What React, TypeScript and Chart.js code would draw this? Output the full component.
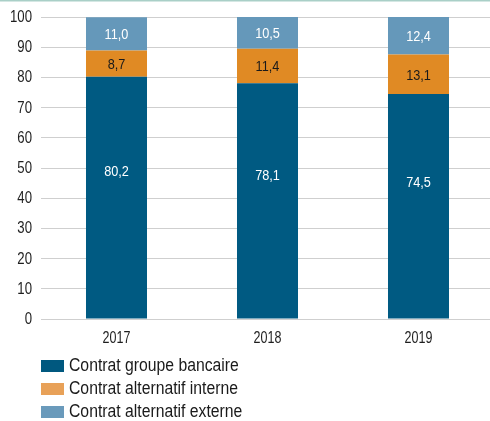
import React, { useEffect, useRef } from 'react';
import { Chart, registerables } from 'chart.js';

Chart.register(...registerables);

const categories = ['2017', '2018', '2019'];
const seriesNames = ['Contrat groupe bancaire', 'Contrat alternatif interne', 'Contrat alternatif externe'];
const groupeBancaire = [80.2, 78.1, 74.5];
const alternatifInterne = [8.7, 11.4, 13.1];
const alternatifExterne = [11.0, 10.5, 12.4];
const yTickMin = 0;
const yTickMax = 100;
const yTickStep = 10;

const barColors = ['#005a82', '#e08a24', '#6598ba'];
const legendColors = ['#00587f', '#e8a158', '#6a9abb'];
const labelColors = ['#ffffff', '#1a1a1a', '#ffffff'];
const labelAnchors = [0.61, 0.5, 0.5];

const FONT = '"Liberation Sans", Arial, sans-serif';

const fmt = (v: number) => v.toFixed(1).replace('.', ',');

function drawCondensed(
  ctx: CanvasRenderingContext2D,
  text: string,
  x: number,
  y: number,
  size: number,
  sx: number,
  align: CanvasTextAlign,
  color: string
) {
  ctx.save();
  ctx.font = `${size}px ${FONT}`;
  ctx.textAlign = align;
  ctx.textBaseline = 'middle';
  ctx.fillStyle = color;
  ctx.translate(x, y);
  ctx.scale(sx, 1);
  ctx.fillText(text, 0, 0);
  ctx.restore();
}

const topLinePlugin = {
  id: 'topLine',
  beforeDraw(chart: any) {
    const ctx = chart.ctx;
    ctx.save();
    ctx.fillStyle = '#a9cfc7';
    ctx.fillRect(0, 0, chart.width, 1.5);
    ctx.restore();
  },
};

const tickLabelPlugin = {
  id: 'tickLabels',
  afterDraw(chart: any) {
    const ctx = chart.ctx;
    const xs = chart.scales.x;
    const ys = chart.scales.y;
    xs.ticks.forEach((t: any, i: number) => {
      const label = String(xs.getLabelForValue(t.value));
      drawCondensed(ctx, label, xs.getPixelForTick(i), chart.chartArea.bottom + 19.5, 16.5, 0.76, 'center', '#1e1e1e');
    });
    ys.ticks.forEach((t: any, i: number) => {
      drawCondensed(ctx, String(t.value), chart.chartArea.left - 9, ys.getPixelForTick(i) + 0.5, 16.5, 0.8, 'right', '#1e1e1e');
    });
  },
};

const valueLabelPlugin = {
  id: 'valueLabels',
  afterDatasetsDraw(chart: any) {
    const ctx = chart.ctx;
    chart.data.datasets.forEach((ds: any, di: number) => {
      const meta = chart.getDatasetMeta(di);
      meta.data.forEach((el: any, i: number) => {
        const v = ds.data[i];
        const y = el.base + (el.y - el.base) * labelAnchors[di];
        drawCondensed(ctx, fmt(v), el.x, y + 1, 15.5, 0.82, 'center', labelColors[di]);
      });
    });
  },
};

const columnLegendPlugin = {
  id: 'columnLegend',
  afterDraw(chart: any) {
    const ctx = chart.ctx;
    const area = chart.chartArea;
    chart.data.datasets.forEach((ds: any, di: number) => {
      const boxTop = area.bottom + 41 + di * 23;
      ctx.save();
      ctx.fillStyle = legendColors[di];
      ctx.fillRect(area.left, boxTop, 23, 12);
      ctx.restore();
      drawCondensed(ctx, ds.label, area.left + 28, boxTop + 6.5, 17.5, 0.9, 'left', '#1a1a1a');
    });
  },
};

export default function App() {
  const canvasRef = useRef<HTMLCanvasElement | null>(null);

  useEffect(() => {
    const canvas = canvasRef.current;
    if (!canvas) return;
    const chart = new Chart(canvas, {
      type: 'bar',
      data: {
        labels: categories,
        datasets: [
          { label: seriesNames[0], data: groupeBancaire, backgroundColor: barColors[0] },
          { label: seriesNames[1], data: alternatifInterne, backgroundColor: barColors[1] },
          { label: seriesNames[2], data: alternatifExterne, backgroundColor: barColors[2] },
        ],
      },
      options: {
        responsive: false,
        animation: false,
        devicePixelRatio: 1,
        layout: { padding: { top: 17, left: 0, right: 0, bottom: 72 } },
        datasets: { bar: { barPercentage: 0.404, categoryPercentage: 1, borderWidth: 0 } },
        plugins: {
          legend: { display: false },
          tooltip: { enabled: false },
        },
        scales: {
          x: {
            stacked: true,
            grid: { display: false },
            border: { display: false },
            ticks: { display: false },
            afterFit(scale: any) {
              scale.height = 30;
            },
          },
          y: {
            stacked: true,
            min: yTickMin,
            max: yTickMax,
            border: { display: false },
            grid: { color: '#cfcfcf', lineWidth: 1, drawTicks: false },
            ticks: { stepSize: yTickStep, display: false },
            afterFit(scale: any) {
              scale.width = 41;
            },
          },
        },
      },
      plugins: [topLinePlugin, tickLabelPlugin, valueLabelPlugin, columnLegendPlugin],
    });
    return () => chart.destroy();
  }, []);

  return (
    <div style={{ position: 'absolute', left: 0, top: 0, width: 490, height: 421, overflow: 'hidden', background: '#fff' }}>
      <canvas ref={canvasRef} width={494} height={421} style={{ display: 'block' }} />
    </div>
  );
}
